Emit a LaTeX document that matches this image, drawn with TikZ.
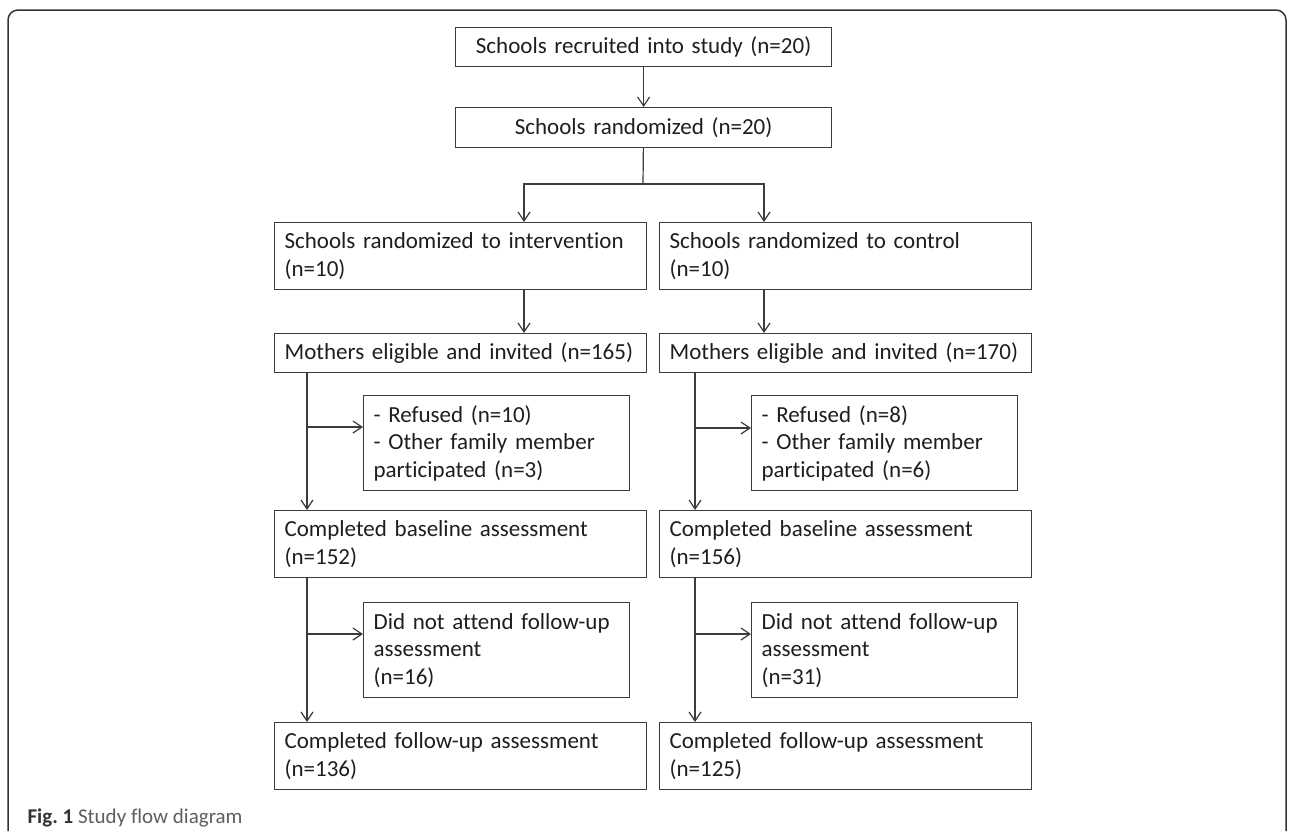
\documentclass[tikz,border=0pt]{standalone}
\usepackage{fontspec}
\setmainfont[Ligatures=NoCommon]{Carlito}
\definecolor{flline}{HTML}{3C3C3C}
\definecolor{fltext}{HTML}{1E1E1E}
\definecolor{flframe}{HTML}{333333}
\definecolor{flcap}{HTML}{5E5E5E}
\usepackage{tikz}
\usetikzlibrary{arrows.meta}

\begin{document}
\begin{tikzpicture}[x=1pt,y=-1pt,
  font=\fontsize{23}{27.5}\selectfont,
  box/.style={draw=flline,line width=1.2pt,anchor=north west,inner xsep=10pt,inner ysep=0pt,align=left,text=fltext},
  wide/.style={box,text width=352pt,minimum height=67pt},
  side/.style={box,text width=246pt,minimum height=95pt},
  ln/.style={flline,line width=1.2pt},
  ar/.style={-{Straight Barb[length=9pt,width=12pt]},ln}]
\useasboundingbox (0,0) rectangle (1292,831);
\draw[flframe,line width=1.5pt,rounded corners=10pt] (8,831) |- (1286,10) -- (1286,831);
\node[box,text width=356pt,minimum height=39pt,align=center] (rec) at (455,27) {Schools recruited into study (n=20)};
\node[box,text width=356pt,minimum height=40pt,align=center] (rand) at (455,107) {Schools randomized (n=20)};
\node[wide] (intv) at (274,222) {Schools randomized to intervention\\(n=10)};
\node[wide] (ctrl) at (659,222) {Schools randomized to control\\(n=10)};
\node[wide,minimum height=39pt] (invL) at (274,333) {Mothers eligible and invited (n=165)};
\node[wide,minimum height=39pt] (invR) at (659,333) {Mothers eligible and invited (n=170)};
\node[side] (exL) at (363,395) {- Refused (n=10)\\- Other family member\\participated (n=3)};
\node[side] (exR) at (751,395) {- Refused (n=8)\\- Other family member\\participated (n=6)};
\node[wide] (baseL) at (274,510) {Completed baseline assessment\\(n=152)};
\node[wide] (baseR) at (659,510) {Completed baseline assessment\\(n=156)};
\node[side] (dnaL) at (363,602) {Did not attend follow-up\\assessment\\(n=16)};
\node[side] (dnaR) at (751,602) {Did not attend follow-up\\assessment\\(n=31)};
\node[wide] (fuL) at (274,722) {Completed follow-up assessment\\(n=136)};
\node[wide] (fuR) at (659,722) {Completed follow-up assessment\\(n=125)};
\node[anchor=base west,font=\fontsize{21}{25}\selectfont,text=flcap] (cap) at (24,823) {{\color{flframe}\textbf{Fig.~1}} Study flow diagram};
% junctions of the connectors
\coordinate (split) at (643,184);
\coordinate (colL) at (524,184);
\coordinate (colR) at (764,184);
\coordinate (trkL) at (307,427);
\coordinate (trkR) at (695,428);
\coordinate (trkL2) at (307,634);
\coordinate (trkR2) at (695,634);
\draw[ar] (rec) -- (rand);
\draw[ln] (rand) -- (split);
\draw[ar] (split) -| (intv.north -| colL);
\draw[ar] (split) -| (ctrl.north -| colR);
\draw[ar] (intv.south -| colL) -- (invL.north -| colL);
\draw[ar] (ctrl.south -| colR) -- (invR.north -| colR);
\draw[ar] (invL.south -| trkL) -- (baseL.north -| trkL);
\draw[ar] (invR.south -| trkR) -- (baseR.north -| trkR);
\draw[ar] (trkL) -- (trkL -| exL.west);
\draw[ar] (trkR) -- (trkR -| exR.west);
\draw[ar] (baseL.south -| trkL2) -- (fuL.north -| trkL2);
\draw[ar] (baseR.south -| trkR2) -- (fuR.north -| trkR2);
\draw[ar] (trkL2) -- (trkL2 -| dnaL.west);
\draw[ar] (trkR2) -- (trkR2 -| dnaR.west);
\end{tikzpicture}
\end{document}
